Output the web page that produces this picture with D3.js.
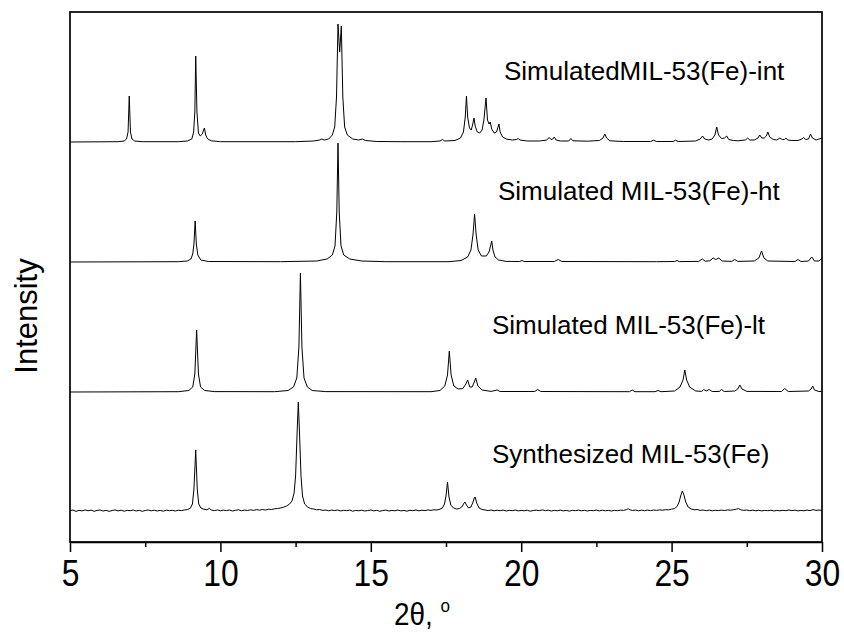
<!DOCTYPE html>
<html><head><meta charset="utf-8">
<script src="https://cdn.jsdelivr.net/npm/d3@7"></script>
<style>body{margin:0;background:#fff}svg{display:block}</style>
</head><body>
<svg id="chart" width="844" height="633"></svg>
<script>
// ---------- data ----------
const xTicks = [5, 10, 15, 20, 25, 30];
const xMinorTicks = [7.5, 12.5, 17.5, 22.5, 27.5];
const xTitle = "2θ, ";
const yTitle = "Intensity";
const seriesNames = ["SimulatedMIL-53(Fe)-int", "Simulated MIL-53(Fe)-ht", "Simulated MIL-53(Fe)-lt", "Synthesized MIL-53(Fe)"];
const seriesOffsets = [400, 280, 150, 31];

const intPattern = [[5,0],[6.6,0.3],[6.8,1],[6.88,3],[6.93,10],[6.97,46],[7.01,10],[7.06,3],[7.15,1],[7.4,0.3],
[8.6,0.3],[8.9,1],[9.05,3],[9.11,10],[9.15,30],[9.18,86],[9.22,30],[9.27,9],[9.33,6],[9.4,8],[9.44,12],[9.47,14],[9.51,7],[9.58,3],[9.7,1.2],[10.0,0.3],
[12.5,0.3],[13.1,1],[13.3,2],[13.37,3],[13.45,2],[13.6,3],[13.72,7],[13.8,15],[13.86,45],[13.91,118],[13.965,90],[14.02,116],[14.07,45],[14.13,15],[14.22,7],[14.4,3],[14.6,2],[14.72,3],[14.82,1.5],[15.2,0.5],[16,0.3],
[17.0,0.3],[17.3,1],[17.38,2.5],[17.46,1],[17.8,1.5],[17.98,4],[18.08,10],[18.14,25],[18.18,46],[18.22,25],[18.28,14],[18.34,12],[18.39,18],[18.43,24],[18.47,16],[18.54,10],[18.62,9],[18.7,12],[18.76,22],[18.83,44],[18.88,22],[18.93,18],[18.97,20],[19.02,13],[19.1,9],[19.18,10],[19.22,14],[19.26,18],[19.3,10],[19.38,5],[19.5,3],[19.7,2],[19.84,2.5],[19.9,3.5],[19.96,2],[20.2,1],[20.6,1],[20.85,2],[20.93,4.5],[20.99,2.5],[21.05,3],[21.1,5],[21.16,2],[21.3,1],[21.58,1],[21.65,3.5],[21.72,1.2],[22.2,0.8],[22.6,1.5],[22.72,4],[22.78,8],[22.84,4],[22.95,1.2],[23.4,0.5],[24.3,0.5],[24.4,1.8],[24.5,0.5],[25.05,0.5],[25.13,1.8],[25.22,0.5],[25.8,1],[25.95,3],[26.03,6],[26.1,3],[26.22,2],[26.35,3],[26.44,7],[26.5,15],[26.56,7],[26.66,3.5],[26.76,4],[26.83,6],[26.9,2.5],[27.05,1.5],[27.2,1.2],[27.45,2],[27.53,4],[27.6,2],[27.75,2],[27.87,4],[27.93,7],[28.0,4],[28.08,4],[28.15,6],[28.2,10],[28.26,5],[28.38,2.5],[28.5,2],[28.6,4],[28.68,2.5],[28.75,2.5],[28.8,4],[28.86,2],[29.0,1.5],[29.2,1.5],[29.33,3],[29.39,4.5],[29.45,2.5],[29.55,3],[29.62,8],[29.68,4],[29.8,2],[29.9,3],[30,4]];

const htPattern = [[5,0],[8.6,0.3],[8.9,1],[9.02,3],[9.08,8],[9.12,18],[9.16,41],[9.2,18],[9.25,7],[9.35,2],[9.6,0.5],[12.0,0.3],[13.2,1],[13.55,3],[13.72,7],[13.81,16],[13.87,50],[13.91,119],[13.95,50],[14.01,16],[14.1,7],[14.3,3],[14.7,1],[15.5,0.3],
[17.6,0.3],[18.0,1.5],[18.22,5],[18.33,12],[18.4,28],[18.45,48],[18.5,28],[18.57,12],[18.68,6],[18.84,6],[18.93,10],[18.98,16],[19.02,21],[19.06,12],[19.13,5],[19.25,2],[19.5,0.6],[19.95,0.5],[20.03,1.5],[20.1,0.5],[21.1,0.5],[21.23,2.5],[21.35,0.5],[24.5,0.3],[25.1,0.5],[25.18,1.5],[25.26,0.4],[25.9,0.6],[26.02,3],[26.12,0.8],[26.27,1.2],[26.38,4],[26.47,2.5],[26.57,4],[26.68,1],[27.0,0.6],[27.1,2.5],[27.2,0.6],[27.75,1],[27.9,4],[27.99,11],[28.07,4],[28.2,1],[29.1,0.5],[29.2,2.5],[29.3,0.5],[29.55,1],[29.66,5],[29.75,1],[29.9,1],[30,4]];

const ltPattern = [[5,0],[8.6,0.3],[8.95,1.5],[9.08,5],[9.15,18],[9.21,62],[9.27,18],[9.34,5],[9.48,1.5],[9.8,0.4],[11.8,0.3],[12.25,1.5],[12.43,5],[12.54,14],[12.61,45],[12.66,119],[12.71,45],[12.78,14],[12.89,5],[13.05,1.5],[13.5,0.4],
[17.0,0.3],[17.3,1.5],[17.46,6],[17.55,17],[17.61,41],[17.67,17],[17.76,6],[17.9,3],[18.06,3.5],[18.16,8],[18.22,12],[18.29,5],[18.37,5],[18.44,10],[18.49,14],[18.56,6],[18.7,2],[19.0,0.6],[19.2,2],[19.3,0.5],[20.45,0.5],[20.55,2.5],[20.65,0.5],[23.6,0.3],[23.69,2],[23.78,0.3],[24.45,0.3],[24.55,1.5],[24.65,0.3],[25.1,1],[25.28,5],[25.38,12],[25.44,22],[25.5,12],[25.6,5],[25.8,1],[26.0,0.6],[26.07,2.5],[26.15,1],[26.25,2.5],[26.35,0.5],[26.58,0.5],[26.66,2.5],[26.75,0.5],[27.1,1],[27.2,3],[27.27,7],[27.34,3],[27.5,0.6],[28.65,0.5],[28.76,3.5],[28.88,0.5],[29.55,1],[29.64,3],[29.69,6],[29.75,2],[29.9,0.5],[30,0.6]];

const synPattern = [[5.0,0.3],[5.1,1.0],[5.2,-0.4],[5.3,0.7],[5.4,0.1],[5.5,1.1],[5.6,0.2],[5.7,0.9],[5.8,-0.3],[5.9,0.6],
[6.0,1.0],[6.1,0.0],[6.2,0.7],[6.3,-0.4],[6.4,0.5],[6.5,1.1],[6.6,0.1],[6.7,0.8],[6.8,-0.2],[6.9,0.6],
[7.0,0.3],[7.1,1.0],[7.2,0.0],[7.3,0.7],[7.4,-0.3],[7.5,0.5],[7.6,1.0],[7.7,0.2],[7.8,0.8],[7.9,0.0],
[8.0,0.6],[8.1,-0.2],[8.2,0.9],[8.3,0.3],[8.4,0.7],[8.5,0.0],[8.6,0.8],[8.7,0.4],[8.8,1.0],[8.9,1.4],
[9.0,2.8],[9.07,7],[9.12,22],[9.18,61],[9.23,22],[9.28,7],[9.35,3],[9.45,1.8],[9.55,1.2],[9.63,2.6],
[9.7,1.0],[9.8,0.4],[9.9,1.0],[10.0,0.2],[10.1,0.9],[10.2,0.4],[10.3,1.0],[10.4,0.0],[10.5,0.7],[10.6,1.2],
[10.7,0.3],[10.8,0.9],[10.9,0.5],[11.0,1.2],[11.1,0.6],[11.2,1.4],[11.3,0.8],[11.4,1.5],[11.5,1.0],[11.6,1.8],
[11.7,1.5],[11.8,2.2],[11.9,2.5],[12.0,3.0],[12.1,3.8],[12.2,5.0],[12.3,7.0],[12.38,10],[12.45,18],[12.5,35],
[12.55,78],[12.59,109],[12.63,78],[12.68,35],[12.73,15],[12.8,7],[12.9,4],[13.0,2.5],[13.1,2.0],[13.2,1.2],
[13.3,1.5],[13.4,0.6],[13.5,1.0],[13.6,0.2],[13.7,0.9],[13.8,0.4],[13.9,1.0],[14.0,0.0],[14.1,0.7],[14.2,0.3],
[14.3,0.9],[14.4,-0.2],[14.5,0.6],[14.6,0.2],[14.7,0.8],[14.8,0.0],[14.9,0.5],[15.0,1.0],[15.1,0.1],[15.2,0.7],
[15.3,-0.3],[15.4,0.5],[15.5,0.9],[15.6,0.0],[15.7,0.6],[15.8,0.2],[15.9,0.9],[16.0,0.1],[16.1,0.6],[16.2,-0.2],
[16.3,0.7],[16.4,0.3],[16.5,1.0],[16.6,0.2],[16.7,0.8],[16.8,0.4],[16.9,1.1],[17.0,0.6],[17.1,1.2],[17.2,1.0],
[17.3,1.8],[17.38,3],[17.45,7],[17.5,15],[17.55,29],[17.6,14],[17.66,6],[17.75,3],[17.85,2],[17.95,2.5],
[18.04,4.5],[18.1,8],[18.13,9],[18.18,6],[18.25,3],[18.33,4],[18.4,9],[18.44,13],[18.47,14],[18.52,8],
[18.6,3],[18.7,1.5],[18.8,1.0],[18.9,0.4],[19.0,1.0],[19.1,0.2],[19.2,0.8],[19.3,0.3],[19.4,0.9],[19.5,0.0],
[19.6,0.7],[19.7,0.3],[19.8,0.9],[19.9,0.1],[20.0,0.6],[20.1,0.2],[20.2,0.8],[20.3,-0.2],[20.4,0.5],[20.5,0.9],
[20.6,0.3],[20.7,1.1],[20.8,0.4],[20.9,0.8],[21.0,0.0],[21.1,0.6],[21.2,0.2],[21.3,0.9],[21.4,0.1],[21.5,0.6],
[21.6,-0.1],[21.7,0.7],[21.8,0.3],[21.9,0.9],[22.0,0.2],[22.1,0.7],[22.2,0.0],[22.3,0.6],[22.4,0.3],[22.5,0.9],
[22.6,0.1],[22.7,0.8],[22.8,0.2],[22.9,0.6],[23.0,0.0],[23.1,0.7],[23.2,0.3],[23.3,0.8],[23.4,0.6],[23.5,1.4],
[23.56,2.2],[23.62,1.2],[23.7,0.5],[23.8,0.9],[23.9,0.2],[24.0,0.8],[24.1,0.3],[24.2,0.9],[24.3,0.4],[24.4,1.0],
[24.5,0.6],[24.6,1.1],[24.7,0.8],[24.8,1.3],[24.9,1.2],[25.0,1.8],[25.1,2.5],[25.18,4.5],[25.25,9],[25.31,16],
[25.36,20],[25.41,16],[25.47,9],[25.55,4],[25.65,2],[25.75,1.2],[25.85,1.5],[25.95,0.6],[26.05,1.0],[26.15,0.3],
[26.25,0.9],[26.35,0.2],[26.45,0.7],[26.55,0.4],[26.65,0.9],[26.75,0.5],[26.85,1.0],[26.95,0.8],[27.05,1.2],[27.15,1.8],
[27.22,2.4],[27.3,1.2],[27.4,0.6],[27.5,1.0],[27.6,0.3],[27.7,0.8],[27.8,0.2],[27.9,0.7],[28.0,0.1],[28.1,0.6],
[28.2,0.3],[28.3,0.8],[28.4,0.0],[28.5,0.6],[28.6,0.2],[28.7,0.7],[28.8,0.3],[28.9,1.0],[29.0,0.4],[29.1,0.8],
[29.2,0.1],[29.3,0.6],[29.4,0.2],[29.5,0.9],[29.6,0.4],[29.7,1.4],[29.8,0.6],[29.9,1.0],[30.0,0.5]];

const patterns = [intPattern, htPattern, ltPattern, synPattern];

// ---------- layout ----------
const plot = {left: 70, right: 822, top: 12, bottom: 542};
const font = "'Liberation Sans', Arial, Helvetica, sans-serif";
const labelPos = [[504, 80], [498, 200], [492, 334], [492, 463]];

const svg = d3.select("#chart");
const x = d3.scaleLinear().domain([5, 30]).range([plot.left, plot.right]);
const y = d3.scaleLinear().domain([0, 530]).range([plot.bottom, plot.top]);

svg.append("defs").append("clipPath").attr("id", "clip")
  .append("rect").attr("x", plot.left).attr("y", plot.top)
  .attr("width", plot.right - plot.left).attr("height", plot.bottom - plot.top);

// patterns
const g = svg.append("g").attr("clip-path", "url(#clip)");
patterns.forEach((p, i) => {
  const off = seriesOffsets[i];
  const line = d3.line().x(d => x(d[0])).y(d => y(d[1] + off));
  g.append("path").datum(p).attr("d", line)
    .attr("fill", "none").attr("stroke", "#000").attr("stroke-width", 1)
    .attr("stroke-linejoin", "round");
});

// series labels
seriesNames.forEach((n, i) => {
  svg.append("text").attr("x", labelPos[i][0]).attr("y", labelPos[i][1])
    .attr("font-family", font).attr("font-size", 26).attr("fill", "#000").text(n);
});

// frame
svg.append("rect").attr("x", plot.left).attr("y", plot.top)
  .attr("width", plot.right - plot.left).attr("height", plot.bottom - plot.top)
  .attr("fill", "none").attr("stroke", "#000").attr("stroke-width", 1.7);

// x axis
const ax = svg.append("g").attr("transform", `translate(0,${plot.bottom})`)
  .call(d3.axisBottom(x).tickValues(xTicks).tickSize(10).tickSizeOuter(0).tickFormat(d3.format("d")));
ax.select(".domain").attr("stroke-width", 1.7);
ax.selectAll(".tick line").attr("stroke-width", 1.5);
ax.selectAll(".tick text").attr("font-family", font).attr("font-size", 37)
  .attr("dy", null).attr("y", 44).attr("transform", "scale(0.86,1)");
const axm = svg.append("g").attr("transform", `translate(0,${plot.bottom})`)
  .call(d3.axisBottom(x).tickValues(xMinorTicks).tickSize(5).tickSizeOuter(0).tickFormat(""));
axm.select(".domain").remove();
axm.selectAll(".tick line").attr("stroke-width", 1.5);

// axis titles
const xt = svg.append("text").attr("transform", "translate(422,625) scale(0.9,1)").attr("text-anchor", "middle")
  .attr("font-family", font).attr("font-size", 31).attr("fill", "#000");
xt.append("tspan").text(xTitle);
xt.append("tspan").attr("font-size", 19).attr("dy", -13).text("o");

svg.append("text").attr("transform", "translate(37,316) rotate(-90)")
  .attr("text-anchor", "middle").attr("font-family", font).attr("font-size", 31)
  .attr("fill", "#000").text(yTitle);
</script>
</body></html>
